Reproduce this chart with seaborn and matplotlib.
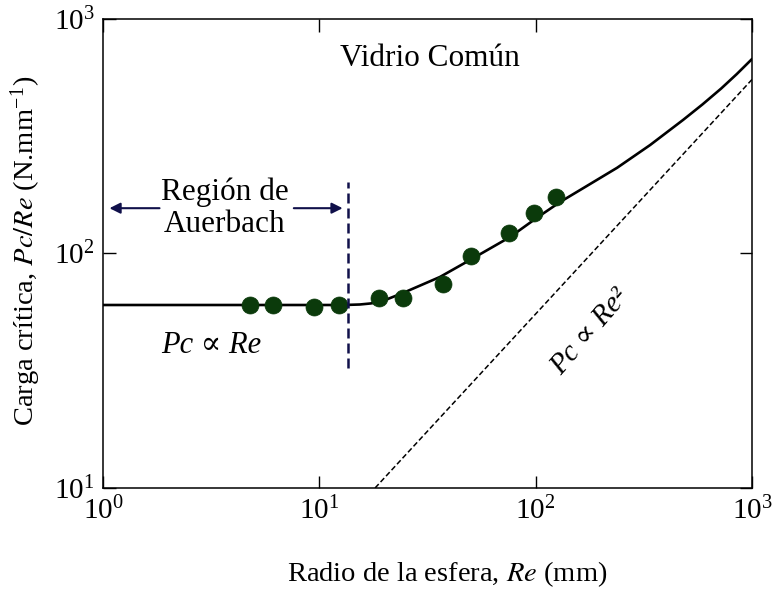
import matplotlib
matplotlib.use("Agg")
import matplotlib.pyplot as plt
import seaborn as sns
import pandas as pd

# Measured critical loads (Pc/Re) against sphere radius
radio_pts = [4.8, 6.1, 9.4, 12.3, 18.8, 24.4, 37.3, 50.3, 75.3, 98.4, 124]
carga_pts = [60.3, 60.3, 59.2, 60.3, 64.6, 64.6, 74.1, 97.6, 122, 149, 174]

# Fitted trend curve
curva_x = [1, 10, 13, 15.4, 17.2, 19.1, 24.4, 36.1, 49.7, 76.2, 101, 130, 166,
           238, 338, 480, 590, 720, 850, 1000]
curva_y = [60.3, 60.3, 60.3, 60.6, 61.2, 62.1, 67.9, 79.4, 93.8, 117.6, 141.7, 166, 190,
           232, 290, 371, 432, 505, 582, 675]

# Asymptote Pc ∝ Re^2 (slope 1 for Pc/Re)
asint_x = [18.1, 1000]
asint_y = [10, 552]

# Limit of the Auerbach region
auerbach_x = [13.6, 13.6]
auerbach_y = [32.5, 202]

sns.set_theme(style="ticks")
plt.rcParams["font.family"] = ["Liberation Serif", "DejaVu Serif"]
plt.rcParams["mathtext.fontset"] = "stix"
plt.rcParams["text.color"] = "black"
plt.rcParams["axes.labelcolor"] = "black"

NAVY = "#10104a"
GREEN = "#0b3a0b"

fig = plt.figure(figsize=(7.72, 5.91), dpi=100)
ax = fig.add_axes([0.1334, 0.1743, 0.8407, 0.7936])

df_curva = pd.DataFrame({"x": curva_x, "y": curva_y})
df_pts = pd.DataFrame({"x": radio_pts, "y": carga_pts})
df_asint = pd.DataFrame({"x": asint_x, "y": asint_y})

sns.lineplot(data=df_curva, x="x", y="y", ax=ax, color="black", lw=1.9, zorder=3,
             solid_joinstyle="round")
sns.lineplot(data=df_asint, x="x", y="y", ax=ax, color="black", lw=1.1,
             linestyle=(0, (3.5, 1.8)), zorder=2)
sns.scatterplot(data=df_pts, x="x", y="y", ax=ax, color=GREEN, s=150,
                edgecolor=GREEN, linewidth=0.5, zorder=4)
ax.plot(auerbach_x, auerbach_y, color=NAVY, lw=1.8, linestyle=(0, (4, 2)), zorder=5)

ax.set_xscale("log")
ax.set_yscale("log")
ax.set_xlim(1, 1000)
ax.set_ylim(10, 1000)
ax.set_xticks([1, 10, 100, 1000])
ax.set_yticks([10, 100, 1000])
ax.minorticks_off()
ax.tick_params(which="major", direction="in", length=9, width=1.0,
               top=True, right=True, labelsize=21, colors="black", pad=6)
for s in ax.spines.values():
    s.set_linewidth(1.1)
    s.set_color("black")

ax.set_xlabel("Radio de la esfera, $\\it{Re}$ (mm)", fontsize=20.5)
ax.xaxis.set_label_coords(0.53, -0.152)
ax.set_ylabel("Carga crítica, $\\it{Pc/Re}$ (N.mm$^{\\mathregular{-1}}$)", fontsize=20.5)
ax.yaxis.set_label_coords(-0.093, 0.505)

# Annotations
ax.text(32.5, 680, "Vidrio Común", fontsize=22.5, ha="center", va="center")
ax.text(3.66, 156, "Región de\nAuerbach", fontsize=22.5, ha="center", va="center",
        linespacing=1.15)
ax.annotate("", xy=(1.04, 156), xytext=(1.88, 156),
            arrowprops=dict(arrowstyle="-|>", color=NAVY, lw=1.5, mutation_scale=16))
ax.annotate("", xy=(13.2, 156), xytext=(7.4, 156),
            arrowprops=dict(arrowstyle="-|>", color=NAVY, lw=1.5, mutation_scale=16))
ax.text(3.16, 40.7, "Pc ∝ Re", fontsize=22, style="italic", ha="center", va="center")
ax.text(178, 46, "Pc ∝ Re²", fontsize=21, style="italic", ha="center", va="center",
        rotation=49)

fig.savefig("out.png", dpi=100)
